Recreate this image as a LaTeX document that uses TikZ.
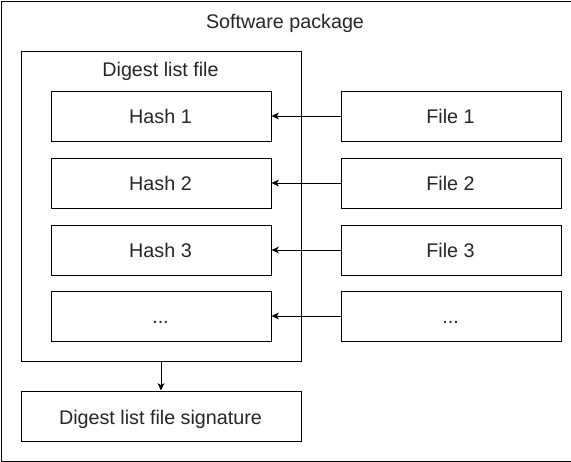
\documentclass[tikz,border=0pt]{standalone}
\usepackage{fontspec}
\setmainfont{Liberation Sans}
\usetikzlibrary{arrows.meta}
\newcommand{\mydots}{...}
\begin{document}
\begin{tikzpicture}[x=0.75pt,y=-0.75pt,
  every node/.style={font=\fontsize{14.8}{17}\selectfont, text=black!85},
  boxn/.style={draw=black, line width=0.75pt, fill=white, inner sep=0pt, anchor=north west},
  lbl/.style={anchor=base, inner sep=0pt},
  conn/.style={line width=0.75pt, -{Stealth[length=5.5pt,width=5pt,inset=1.5pt]}}]
\useasboundingbox (0,0) rectangle (571,461);
% outer package
\node[boxn, minimum width=427.5pt, minimum height=345pt] (pkg) at (0.5,0.5) {};
\node[lbl] (pkglbl) at (285,28) {Software package};
% digest list file
\node[boxn, minimum width=210pt, minimum height=232.5pt] (dig) at (20.5,50.5) {};
\node[lbl] (diglbl) at (160.5,76) {Digest list file};
% hash boxes and file boxes
\foreach \i/\y/\t/\f in {1/90/Hash 1/File 1, 2/157/Hash 2/File 2, 3/224/Hash 3/File 3, 4/290/\mydots/\mydots}{
  \node[boxn, minimum width=165pt, minimum height=37.5pt] (h\i) at (50.5,\y+0.5) {};
  \node[lbl] (ht\i) at (160.5,\y+33.5) {\t};
  \node[boxn, minimum width=165pt, minimum height=37.5pt] (f\i) at (340.5,\y+0.5) {};
  \node[lbl] (ft\i) at (450.5,\y+33.5) {\f};
  \draw[conn] (f\i.west) -- (h\i.east);
}
% signature
\node[boxn, minimum width=210pt, minimum height=37.5pt] (sig) at (20.5,390.5) {};
\node[lbl] (siglbl) at (160.5,424) {Digest list file signature};
\draw[conn] (dig.south) -- (sig.north);
\end{tikzpicture}
\end{document}
